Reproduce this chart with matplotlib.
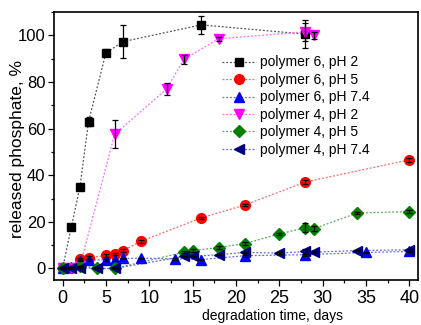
import matplotlib
matplotlib.use("Agg")
import matplotlib.pyplot as plt
from matplotlib.ticker import MultipleLocator

plt.rcParams['font.family'] = ['Liberation Sans', 'DejaVu Sans']

# polymer 6, pH 2
p6_ph2_x = [0, 1, 2, 3, 5, 7, 16, 28]
p6_ph2_y = [0, 17.6, 35, 63, 92.5, 97.3, 104.5, 100.5]
p6_ph2_e = [0, 0, 0, 2, 1.5, 7, 4, 6]

# polymer 6, pH 5
p6_ph5_x = [0, 1, 2, 3, 5, 6, 7, 9, 16, 21, 28, 40]
p6_ph5_y = [0, 0.3, 4.2, 4.7, 5.6, 6.2, 7.7, 11.6, 21.7, 27.2, 37.1, 46.6]
p6_ph5_e = [0, 0, 0.5, 0.5, 0.5, 0.5, 0.5, 0.5, 0.5, 0.5, 1, 1]

# polymer 6, pH 7.4
p6_ph74_x = [0, 1, 2, 3, 5, 6, 7, 9, 13, 16, 21, 28, 35, 40]
p6_ph74_y = [0, 0.5, 3.4, 3.7, 3.7, 3.7, 4.3, 4.4, 4.1, 3.8, 5.5, 5.9, 6.9, 7.3]
p6_ph74_e = [0, 0, 0.3, 0.3, 0.3, 0.3, 0.3, 0.3, 0.3, 0.3, 0.5, 0.5, 0.3, 0.3]

# polymer 4, pH 2
p4_ph2_x = [0, 1, 2, 6, 12, 14, 18, 28, 29]
p4_ph2_y = [0, 0, 1, 57.5, 77, 89.7, 98.5, 101.5, 100]
p4_ph2_e = [0, 0, 0, 6, 2.5, 2, 1, 4, 1.5]

# polymer 4, pH 5
p4_ph5_x = [0, 2, 4, 6, 14, 15, 18, 21, 25, 28, 29, 34, 40]
p4_ph5_y = [0, 1.2, 0, 0, 7, 7.7, 9, 10.7, 14.8, 17.5, 17.1, 23.8, 24.4]
p4_ph5_e = [0, 0, 0, 0, 0.5, 0.5, 0.5, 0.5, 0.5, 2, 1, 0.5, 0.5]

# polymer 4, pH 7.4
p4_ph74_x = [0, 1, 2, 4, 6, 14, 15, 18, 21, 25, 28, 29, 34, 40]
p4_ph74_y = [0, 0, 0.2, 0, 0, 5.2, 5.2, 5.9, 6.9, 6.6, 7.3, 7.0, 7.7, 8.0]
p4_ph74_e = [0, 0, 0, 0, 0, 0.3, 0.3, 0.3, 0.3, 0.3, 1, 0.3, 0.3, 0.5]

labels = ["polymer 6, pH 2", "polymer 6, pH 5", "polymer 6, pH 7.4",
          "polymer 4, pH 2", "polymer 4, pH 5", "polymer 4, pH 7.4"]

series = [
    (p6_ph2_x, p6_ph2_y, p6_ph2_e, 's', '#000000', '#555555', 6.0),
    (p6_ph5_x, p6_ph5_y, p6_ph5_e, 'o', '#ff0000', '#ff6666', 7.0),
    (p6_ph74_x, p6_ph74_y, p6_ph74_e, '^', '#0000ff', '#6666ff', 7.0),
    (p4_ph2_x, p4_ph2_y, p4_ph2_e, 'v', '#ff00ff', '#ff66ff', 7.5),
    (p4_ph5_x, p4_ph5_y, p4_ph5_e, 'D', '#008000', '#55aa55', 6.0),
    (p4_ph74_x, p4_ph74_y, p4_ph74_e, '<', '#000080', '#6666cc', 7.0),
]

fig = plt.figure(figsize=(4.21, 3.25), dpi=100)
ax = fig.add_axes([0.128, 0.138, 0.865, 0.825])

handles = []
for (x, y, e, m, c, lc, ms), lab in zip(series, labels):
    ax.errorbar(x, y, yerr=e, fmt='none', ecolor='black', elinewidth=0.9,
                capsize=2.5, capthick=0.9, zorder=4)
    ax.plot(x, y, linestyle=(0, (1.5, 1.5)), color=lc, lw=0.9, zorder=2)
    ax.plot(x, y, linestyle='none', marker=m, ms=ms, mfc=c, mec=c, zorder=3)
    h, = ax.plot([], [], linestyle=(0, (1.5, 1.5)), color=lc, lw=0.9,
                 marker=m, ms=ms, mfc=c, mec=c)
    handles.append(h)

ax.set_xlim(-1, 41)
ax.set_ylim(-5, 110)
ax.xaxis.set_major_locator(MultipleLocator(5))
ax.xaxis.set_minor_locator(MultipleLocator(2.5))
ax.yaxis.set_major_locator(MultipleLocator(20))
ax.yaxis.set_minor_locator(MultipleLocator(10))
ax.tick_params(which='major', direction='out', length=4, width=0.9)
ax.tick_params(axis='x', which='major', labelsize=13, pad=3)
ax.tick_params(axis='y', which='major', labelsize=12, pad=2)
ax.tick_params(which='minor', direction='out', length=2.2, width=0.9)
for s in ax.spines.values():
    s.set_linewidth(1.2)

ax.set_xlabel("degradation time, days", fontsize=10)
ax.xaxis.set_label_coords(0.60, -0.108)
ax.set_ylabel("released phosphate, %", fontsize=12.5)
ax.yaxis.set_label_coords(-0.08, 0.49)

ax.legend(handles, labels, loc='upper left', bbox_to_anchor=(0.463, 0.838),
          frameon=False, fontsize=10, handlelength=2.4, handletextpad=0.3,
          labelspacing=0.25, borderpad=0, borderaxespad=0)

fig.savefig("out.png", dpi=100)
